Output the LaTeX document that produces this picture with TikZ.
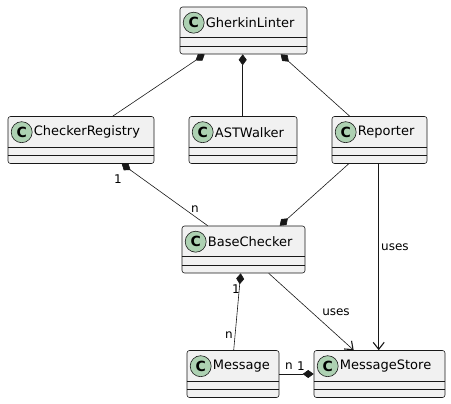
\documentclass[tikz,border=0pt]{standalone}
\usepackage{fontspec}
\setmainfont{DejaVu Sans}
\usetikzlibrary{arrows.meta,calc}
\definecolor{boxfill}{HTML}{F1F1F1}
\definecolor{boxline}{HTML}{181818}
\definecolor{cgreen}{HTML}{ADD1B2}
\tikzset{
  cls/.style={draw=boxline, fill=boxfill, line width=0.6pt, rounded corners=2.5pt, minimum height=47pt, inner sep=0pt},
  cicon/.style={circle, draw=boxline, fill=cgreen, line width=0.6pt, minimum size=21pt, inner sep=0pt, font=\fontsize{14}{14}\selectfont\bfseries},
  cname/.style={anchor=west, inner sep=0pt, font=\fontsize{13}{13}\selectfont},
  sep/.style={draw=boxline, line width=0.5pt},
  link/.style={draw=boxline, line width=0.6pt},
  comp/.style={link, {Diamond[length=11pt,width=8pt]}-},
  uses/.style={link, -{Straight Barb[length=7pt,width=11pt,line width=1.1pt]}},
  lbl/.style={inner sep=0pt, font=\fontsize{12}{12}\selectfont},
}
\newcommand{\umlclass}[5]{%
  \node[cls, minimum width=#4pt] (#1) at (#2,#3) {};
  \node[cicon] (#1c) at ($(#1.north west)+(14,16)$) {C};
  \node[cname] (#1t) at ($(#1.north west)+(26,16)$) {#5};
  \draw[sep] ($(#1.north west)+(0,31)$) -- ($(#1.north east)+(0,31)$);
  \draw[sep] ($(#1.north west)+(0,39.5)$) -- ($(#1.north east)+(0,39.5)$);
}
\begin{document}
\begin{tikzpicture}[x=1pt,y=-1pt]
\useasboundingbox (0,0) rectangle (451,404);
\umlclass{gl}{243.5}{30.5}{127}{GherkinLinter}
\umlclass{cr}{81}{140}{146}{CheckerRegistry}
\umlclass{ast}{243}{140}{108}{ASTWalker}
\umlclass{rep}{379.5}{140}{95}{Reporter}
\umlclass{bc}{243.5}{249.5}{123}{BaseChecker}
\umlclass{msg}{233}{374}{92}{Message}
\umlclass{ms}{379.5}{374}{131}{MessageStore}
% GherkinLinter compositions
\draw[comp] ($(gl.south west)+(25,0)$) -- ($(cr.north west)+(105,0)$);
\draw[comp] ($(gl.south west)+(63,0)$) -- ($(ast.north west)+(54,0)$);
\draw[comp] ($(gl.south west)+(101,0)$) -- ($(rep.north west)+(18,0)$);
% CheckerRegistry - BaseChecker
\draw[comp] ($(cr.south west)+(114,0)$) coordinate (crb) -- ($(bc.north west)+(26,0)$) coordinate (bct);
\node[lbl] (l1) at (118,179) {1};
\node[lbl] (l2) at (195,209) {n};
% Reporter - BaseChecker
\draw[comp] ($(bc.north west)+(98,0)$) -- ($(rep.south west)+(17,0)$);
% Reporter uses MessageStore
\draw[uses] ($(rep.south west)+(47,0)$) -- ($(ms.north west)+(65,0)$);
\node[lbl, anchor=west] (u1) at (381,247) {uses};
% BaseChecker uses MessageStore
\draw[uses] ($(bc.south west)+(87,0)$) -- ($(ms.north west)+(40,0)$);
\node[lbl] (u2) at (336,312) {uses};
% BaseChecker - Message
\draw[comp] ($(bc.south west)+(59,0)$) -- ($(msg.north west)+(47,0)$);
\node[lbl] (l3) at (236,289) {1};
\node[lbl] (l4) at (229,335) {n};
% Message - MessageStore
\draw[comp] (ms.west) -- (msg.east);
\node[lbl] (l5) at (289,366) {n};
\node[lbl] (l6) at (301,366) {1};
\end{tikzpicture}
\end{document}
